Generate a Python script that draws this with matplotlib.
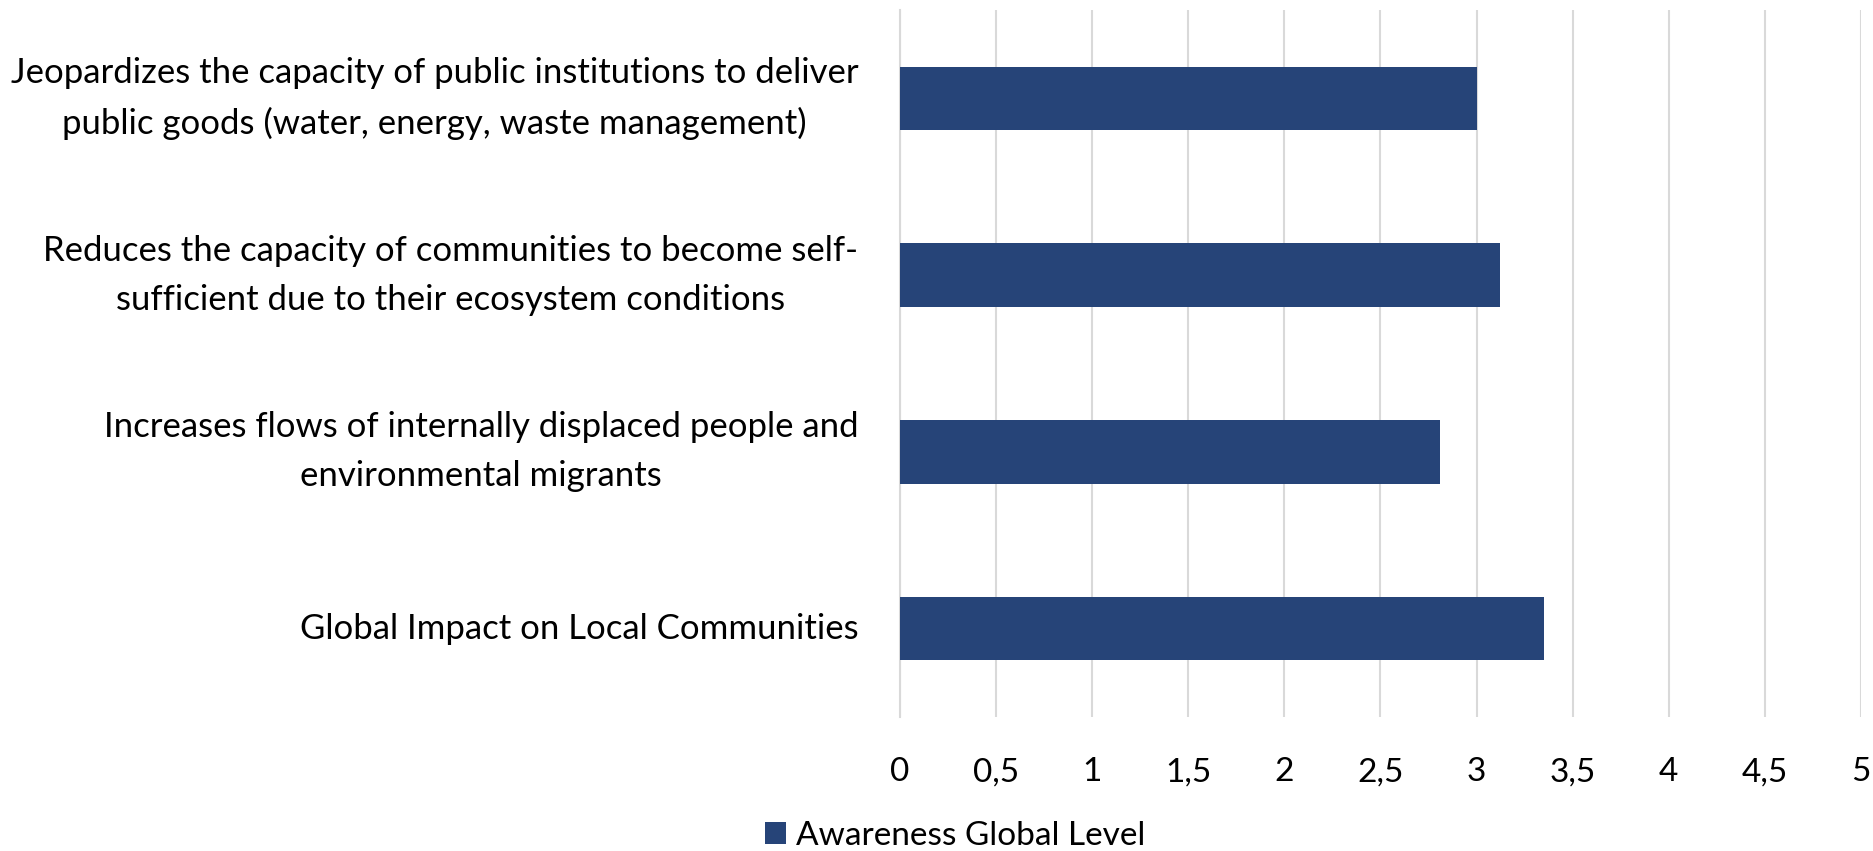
import matplotlib
matplotlib.use('Agg')
import matplotlib.pyplot as plt

categories = [
    'Global Impact on Local Communities',
    'Increases flows of internally displaced people and\nenvironmental migrants',
    'Reduces the capacity of communities to become self-\nsufficient due to their ecosystem conditions',
    'Jeopardizes the capacity of public institutions to deliver\npublic goods (water, energy, waste management)',
]
values = [3.35, 2.81, 3.12, 3.0]
ticks = [0, 0.5, 1, 1.5, 2, 2.5, 3, 3.5, 4, 4.5, 5]
tick_labels = ['0', '0,5', '1', '1,5', '2', '2,5', '3', '3,5', '4', '4,5', '5']
series_name = 'Awareness Global Level'

plt.rcParams['font.family'] = ['Lato', 'DejaVu Sans']

fig = plt.figure(figsize=(18.74, 8.51), dpi=100)
ax = fig.add_axes([0.4803, 0.1575, 0.993 - 0.4803, 0.988 - 0.1575])

ax.barh(range(len(categories)), values, height=0.36, color='#264478', label=series_name, zorder=3)

ax.set_xlim(0, 5)
ax.set_ylim(-0.5, len(categories) - 0.5)
ax.set_xticks(ticks)
ax.set_xticklabels(tick_labels, fontsize=24)
ax.set_yticks(range(len(categories)))
ax.set_yticklabels(categories, fontsize=25, multialignment='center', linespacing=1.65)
for lab in ax.get_yticklabels():
    lab.set_va('center')
ax.tick_params(axis='y', length=0, pad=30)
ax.tick_params(axis='x', length=0, pad=29)
ax.grid(axis='x', color='#d9d9d9', linewidth=1.5, zorder=0)
for s in ['top', 'right', 'bottom']:
    ax.spines[s].set_visible(False)
ax.spines['left'].set_color('#d9d9d9')
ax.spines['left'].set_linewidth(1.5)

fig.legend(loc='center', bbox_to_anchor=(0.5096, 0.0175), frameon=False, fontsize=24,
           handlelength=0.63, handleheight=0.63, handletextpad=0.3)

plt.savefig('out.png', dpi=100)
